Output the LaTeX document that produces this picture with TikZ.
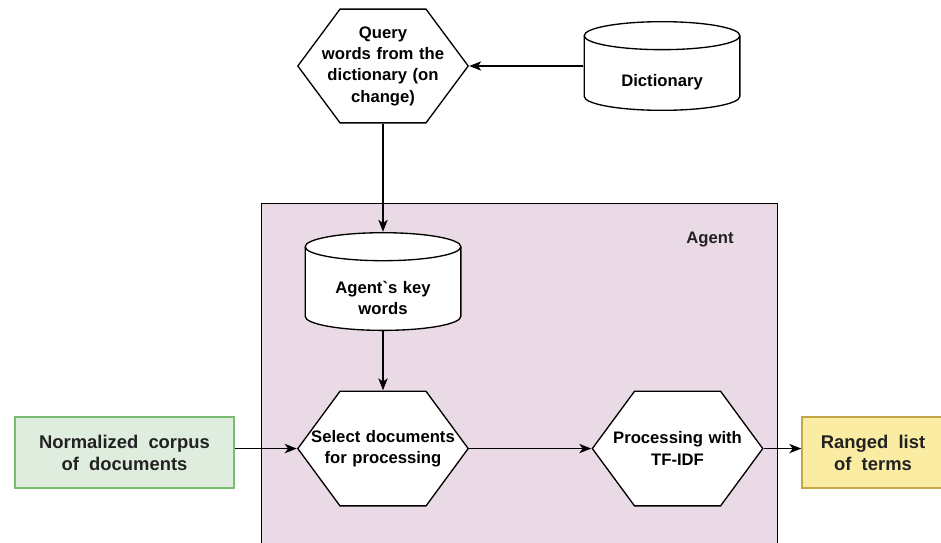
\documentclass[tikz,border=0pt]{standalone}
\usepackage{fontspec}
\setmainfont{Liberation Sans}[Ligatures=TeXOff]
\usetikzlibrary{arrows.meta,positioning}
\definecolor{agentpink}{RGB}{234,218,230}
\definecolor{corpusgreen}{RGB}{223,237,222}
\definecolor{corpusedge}{RGB}{120,190,110}
\definecolor{termsyellow}{RGB}{251,236,163}
\definecolor{termsedge}{RGB}{196,168,70}
\definecolor{darktext}{RGB}{34,34,34}
\tikzset{
	%Define standard arrow tip
	>={Stealth[length=9pt,width=7pt,inset=2.5pt]},
	%Define style for hexagon steps
	hexa/.style={
		minimum width=129pt, minimum height=#1, inner sep=0pt,
		text width=125pt, align=center,
		font=\bfseries\fontsize{12.5}{16}\selectfont,
		path picture={
			\draw[line width=1pt, fill=white]
			([xshift=32.25pt,yshift=-0.5pt]path picture bounding box.north west) --
			([xshift=-32.25pt,yshift=-0.5pt]path picture bounding box.north east) --
			([xshift=-0.6pt]path picture bounding box.east) --
			([xshift=-32.25pt,yshift=0.5pt]path picture bounding box.south east) --
			([xshift=32.25pt,yshift=0.5pt]path picture bounding box.south west) --
			([xshift=0.6pt]path picture bounding box.west) -- cycle;
		}},
	%Define style for data stores
	store/.style 2 args={
		minimum width=#1, minimum height=#2, inner sep=0pt,
		text width=105pt, align=center,
		font=\bfseries\fontsize{12.5}{16}\selectfont,
		execute at begin node={\rule{0pt}{34pt}},
		path picture={
			\draw[line width=1pt, fill=white]
			([xshift=0.5pt,yshift=-11pt]path picture bounding box.north west) --
			([xshift=0.5pt,yshift=11pt]path picture bounding box.south west)
			arc[start angle=180, end angle=360, x radius=#1/2-0.5pt, y radius=10.5pt] --
			([xshift=-0.5pt,yshift=-11pt]path picture bounding box.north east)
			arc[start angle=0, end angle=180, x radius=#1/2-0.5pt, y radius=10.5pt] -- cycle;
			\draw[line width=1pt]
			([xshift=0.5pt,yshift=-11pt]path picture bounding box.north west)
			arc[start angle=180, end angle=360, x radius=#1/2-0.5pt, y radius=10.5pt];
		}},
	% Define style for input and output boxes
	ioput/.style={
		rectangle, line width=1pt,
		minimum height=53.25pt, inner sep=0pt,
		align=center, text=darktext,
		font=\bfseries\fontsize{13.8}{16.5}\selectfont},
	% Define arrow style
	pil/.style={
		->,
		line width=1pt}
}

\begin{document}
\begin{tikzpicture}[x=0.75pt, y=-0.75pt]
	\useasboundingbox (0,0) rectangle (941,542);
	
	\node[hexa=86.25pt] (query) at (383,66) {Query\\words from the\\dictionary (on\\change)};
	\node[store={117.75pt}{67.5pt}, right=85.5pt of query] (dict) {Dictionary};
	
	% agent area
	\node[draw, line width=1pt, fill=agentpink, anchor=north west,
		minimum width=387pt, minimum height=268pt] (agent) at (261,203) {};
	\node[font=\bfseries\fontsize{12.5}{16}\selectfont, text=darktext] (agentlbl) at (710,240) {Agent};
	
	\node[store={117.75pt}{74.25pt}, below=81pt of query] (keys) {Agent\char96 s key\\words};
	\node[hexa=87pt, below=44.25pt of keys] (select) {Select documents\\for processing};
	\node[hexa=87pt, right=91.5pt of select] (tfidf) {Processing with\\TF-IDF};
	
	\node[ioput, draw=corpusedge, fill=corpusgreen, minimum width=164.25pt] (corpus) at (124.5,452.5) {Normalized~~corpus\\of~~documents};
	\node[ioput, draw=termsedge, fill=termsyellow, minimum width=106.5pt] (terms) at (873,452.5) {Ranged~~list\\of~~terms};
	
	\draw[pil] (dict.west) -- (query.east);
	\draw[pil] (query.south) -- (keys.north);
	\draw[pil] (keys.south) -- (select.north);
	\draw[pil] (corpus.east |- select.west) -- (select.west);
	\draw[pil] (select.east) -- (tfidf.west);
	\draw[pil] (tfidf.east) -- (terms.west |- tfidf.east);
	
\end{tikzpicture}
\end{document}
